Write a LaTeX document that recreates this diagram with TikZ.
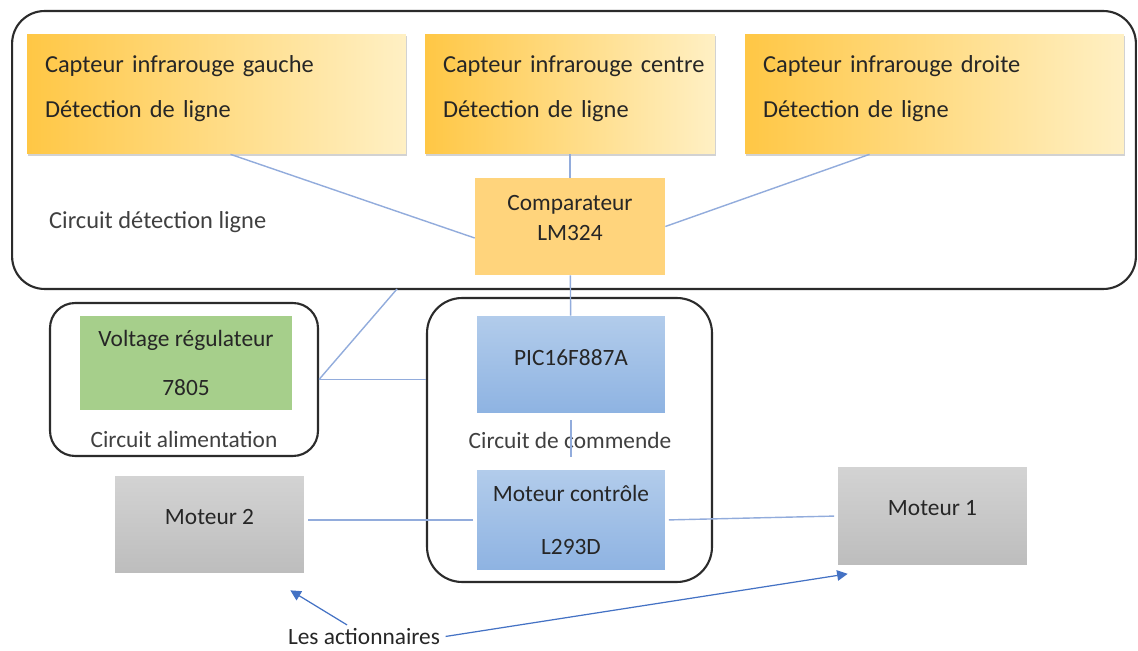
\documentclass[tikz,border=0pt]{standalone}
\usepackage{fontspec}
\setmainfont{Carlito}
\usetikzlibrary{shadows,arrows.meta}
\definecolor{SensorDark}{HTML}{FFC745}
\definecolor{SensorLight}{HTML}{FFF0C4}
\definecolor{CompFill}{HTML}{FFD47C}
\definecolor{RegFill}{HTML}{A6CF8B}
\definecolor{ChipTop}{HTML}{B2CCEB}
\definecolor{ChipBottom}{HTML}{8EB3E2}
\definecolor{MotorTop}{HTML}{D3D3D3}
\definecolor{MotorBottom}{HTML}{BDBDBD}
\definecolor{WireBlue}{HTML}{92ACDC}
\definecolor{ArrowBlue}{HTML}{4472C4}
\definecolor{FrameGray}{HTML}{2B2B2B}
\definecolor{TextDark}{HTML}{262626}
\definecolor{TextMuted}{HTML}{404040}

% pushes the text of a box a little above its middle
\newcommand{\lift}[1]{\\[-#1]\mbox{}}

\begin{document}
\begin{tikzpicture}[
	x=0.02cm, y=-0.02cm,
	font=\fontsize{13.3}{16}\selectfont,
	text=TextDark,
	% sensors along the top row
	sensor node/.style={
		left color=SensorDark,
		right color=SensorLight,
		drop shadow={shadow xshift=0.6pt, shadow yshift=-1.4pt, opacity=0.35},
		minimum height=2.4cm,
		inner xsep=0.36cm,
		text width=#1,
		align=left,
		font=\fontsize{13.9}{16.5}\selectfont
	},
	chip node/.style={
		minimum width=3.78cm,
		minimum height=1.94cm,
		align=center
	},
	blue node/.style={
		chip node,
		top color=ChipTop,
		bottom color=ChipBottom
	},
	motor node/.style={
		chip node,
		top color=MotorTop,
		bottom color=MotorBottom
	},
	% rounded frames around each circuit
	group box/.style={
		draw=FrameGray,
		line width=1.2pt,
		fill=white
	},
	edge/.style={
		draw=WireBlue,
		line width=0.8pt
	},
	pointer/.style={
		draw=ArrowBlue,
		line width=0.7pt,
		-{Triangle[length=6pt,width=6pt]}
	}
	]
	
	\useasboundingbox (0,0) rectangle (1138,651);
	
	% ================= FRAMES =================
	\node[group box, rounded corners=0.65cm, minimum width=22.48cm, minimum height=5.56cm] (detect) at (574,150) {};
	\node[group box, rounded corners=0.5cm, minimum width=5.36cm, minimum height=3.06cm] (alim) at (184,379.5) {};
	\node[group box, rounded corners=0.7cm, minimum width=5.7cm, minimum height=5.68cm] (cmd) at (569.5,440) {};
	
	\node[anchor=west, text=TextMuted, font=\fontsize{13.9}{16.5}\selectfont] (detect label) at (43,222) {Circuit détection ligne};
	\node[text=TextMuted] (alim label) at (184,439) {Circuit alimentation};
	
	% ================= NODES =================
	\node[sensor node=6.86cm] (gauche) at (216.5,94) {\mbox{Capteur infrarouge gauche}\\[9pt]Détection de ligne\lift{8pt}};
	\node[sensor node=5.08cm] (centre) at (570,94) {\mbox{Capteur infrarouge centre}\\[9pt]Détection de ligne\lift{8pt}};
	\node[sensor node=6.86cm] (droite) at (934.5,94) {\mbox{Capteur infrarouge droite}\\[9pt]Détection de ligne\lift{8pt}};
	
	\node[chip node, fill=CompFill, minimum width=3.8cm] (comp) at (570,226.5) {Comparateur\\[1pt]LM324\lift{6pt}};
	
	\node[chip node, fill=RegFill, minimum width=4.24cm, minimum height=1.88cm] (reg) at (186,363) {Voltage régulateur\\[12pt]7805};
	
	\node[blue node, minimum width=3.76cm] (pic) at (571,364.5) {PIC16F887A\lift{8pt}};
	\node[blue node, minimum width=3.76cm, minimum height=2cm] (mc) at (571,520) {Moteur contrôle\\[14pt]L293D};
	
	\node[motor node] (m2) at (209.5,524.5) {Moteur 2\lift{7pt}};
	\node[motor node] (m1) at (932.5,516) {Moteur 1\lift{7pt}};
	
	\node[text=TextMuted] (cmd label) at (570,440) {Circuit de commende};
	\node[inner sep=1pt] (act) at (364,637) {Les actionnaires};
	
	\coordinate (tap) at (397,289);
	\coordinate (m2 tip) at ([shift={(-14,17)}]m2.south east);
	\coordinate (m1 tip) at ([shift={(10,9)}]m1.south west);
	
	% ================= EDGES =================
	\draw[edge] ([xshift=0.28cm]gauche.south) -- ([yshift=-0.23cm]comp.west);
	\draw[edge] (centre) -- (comp);
	\draw[edge] ([xshift=-1.3cm]droite.south) -- (comp.east);
	\draw[edge] (comp) -- (pic);
	\draw[edge, shorten <=4pt, shorten >=7pt] (pic) -- (mc);
	\draw[edge] (alim.east) -- (tap);
	\draw[edge] (alim.east) -- (alim.east -| cmd.west);
	\draw[edge, shorten <=2pt, shorten >=2pt] (mc.west) -- (mc.west -| m2.east);
	\draw[edge, shorten <=2pt, shorten >=2pt] (mc.east) -- (m1.west);
	
	\draw[pointer, shorten <=2pt] ([xshift=-0.28cm]act.north) -- (m2 tip);
	\draw[pointer, shorten <=2pt] (act.east) -- (m1 tip);
	
\end{tikzpicture}
\end{document}
